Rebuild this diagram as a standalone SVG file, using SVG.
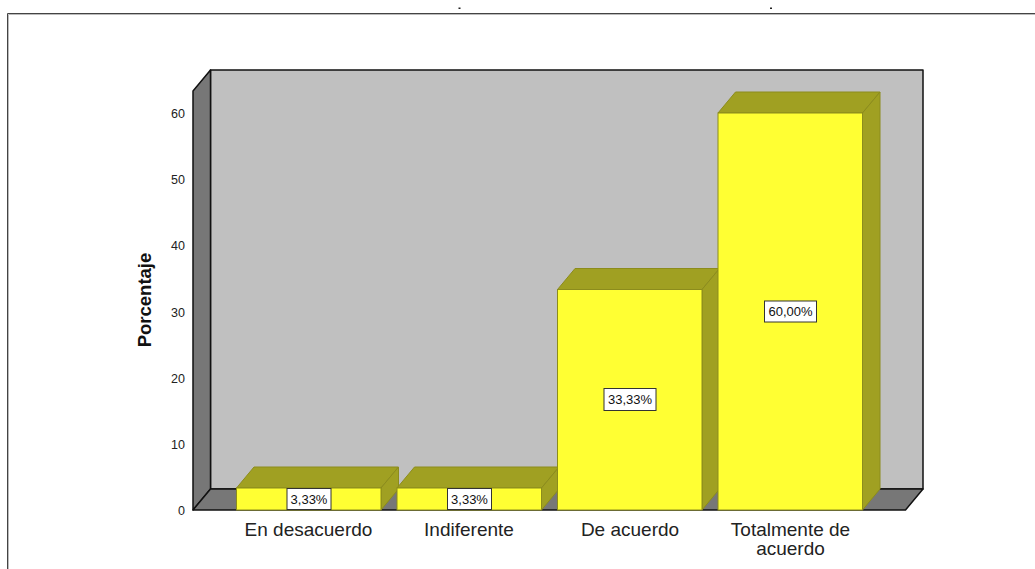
<svg xmlns="http://www.w3.org/2000/svg" width="1035" height="569" viewBox="0 0 1035 569">
<style>
.frame{fill:none;stroke:#444;stroke-width:1}
.frame2{fill:none;stroke:#bbb;stroke-width:1}
.wall{fill:#c0c0c0;stroke:#111;stroke-width:1.5;stroke-linejoin:round}
.side{fill:#777777;stroke:#111;stroke-width:1.5;stroke-linejoin:round}
.front{fill:#ffff33;stroke:#8c8c1c;stroke-width:1}
.dark{fill:#a0a022;stroke:#8c8c1c;stroke-width:1;stroke-linejoin:round}
.lbox{fill:#fff;stroke:#333;stroke-width:1}
.ltxt{font-family:"Liberation Sans",Arial,sans-serif;font-size:13px;fill:#111;text-anchor:middle}
.tick{font-family:"Liberation Sans",Arial,sans-serif;font-size:12.5px;fill:#222;text-anchor:end}
.cat{font-family:"Liberation Sans",Arial,sans-serif;font-size:19px;fill:#222;text-anchor:middle}
.ytitle{font-family:"Liberation Sans",Arial,sans-serif;font-size:18.5px;font-weight:bold;fill:#111;text-anchor:middle}
</style>
<rect width="1035" height="569" fill="#fff"/>
<g id="frame">
<path class="frame2" d="M8.5,14.5 H1035 M8.5,14.5 V569"/>
<path class="frame" d="M7.5,13.5 H1035 M7.5,13.5 V569"/>
<rect x="458.5" y="7.5" width="2" height="1.5" fill="#222"/>
<rect x="770" y="7.5" width="2" height="1.5" fill="#222"/>
</g>
<g id="chart-walls">
<rect class="wall" x="210.5" y="70" width="712.5" height="419"/>
<polygon class="side" points="193,91 210.5,70 210.5,489 193,510"/>
<polygon class="side" points="193,510 210.5,489 923,489 905.5,510"/>
</g>
<g id="y-axis">
<text class="tick" x="185" y="515">0</text>
<text class="tick" x="185" y="449">10</text>
<text class="tick" x="185" y="383">20</text>
<text class="tick" x="185" y="317">30</text>
<text class="tick" x="185" y="250">40</text>
<text class="tick" x="185" y="184">50</text>
<text class="tick" x="185" y="118">60</text>
<text class="ytitle" transform="translate(150.5,300) rotate(-90)">Porcentaje</text>
</g>
<g id="bar-en-desacuerdo">
<polygon class="dark" points="236.5,488 254,467 398.5,467 381,488"/>
<polygon class="dark" points="381,488 398.5,467 398.5,489 381,510"/>
<rect class="front" x="236.5" y="488" width="144.5" height="22"/>
<rect class="lbox" x="287" y="488.5" width="44" height="21"/>
<text class="ltxt" x="309" y="503.5">3,33%</text>
</g>
<g id="bar-indiferente">
<polygon class="dark" points="397,488 414.5,467 559,467 541.5,488"/>
<polygon class="dark" points="541.5,488 559,467 559,489 541.5,510"/>
<rect class="front" x="397" y="488" width="144.5" height="22"/>
<rect class="lbox" x="447.5" y="488.5" width="44" height="21"/>
<text class="ltxt" x="469.5" y="503.5">3,33%</text>
</g>
<g id="bar-de-acuerdo">
<polygon class="dark" points="557.5,289.5 575,268.5 719.5,268.5 702,289.5"/>
<polygon class="dark" points="702,289.5 719.5,268.5 719.5,489 702,510"/>
<rect class="front" x="557.5" y="289.5" width="144.5" height="220.5"/>
<rect class="lbox" x="604" y="388.5" width="52" height="22"/>
<text class="ltxt" x="630" y="404">33,33%</text>
</g>
<g id="bar-totalmente">
<polygon class="dark" points="718,113 735.5,92 880,92 862.5,113"/>
<polygon class="dark" points="862.5,113 880,92 880,489 862.5,510"/>
<rect class="front" x="718" y="113" width="144.5" height="397"/>
<rect class="lbox" x="764.5" y="301" width="52" height="21"/>
<text class="ltxt" x="790.5" y="316">60,00%</text>
</g>
<g id="x-axis">
<text class="cat" x="308.5" y="536">En desacuerdo</text>
<text class="cat" x="469" y="536">Indiferente</text>
<text class="cat" x="630" y="536">De acuerdo</text>
<text class="cat" x="790.5" y="536">Totalmente de</text>
<text class="cat" x="790.5" y="555">acuerdo</text>
</g>
</svg>
